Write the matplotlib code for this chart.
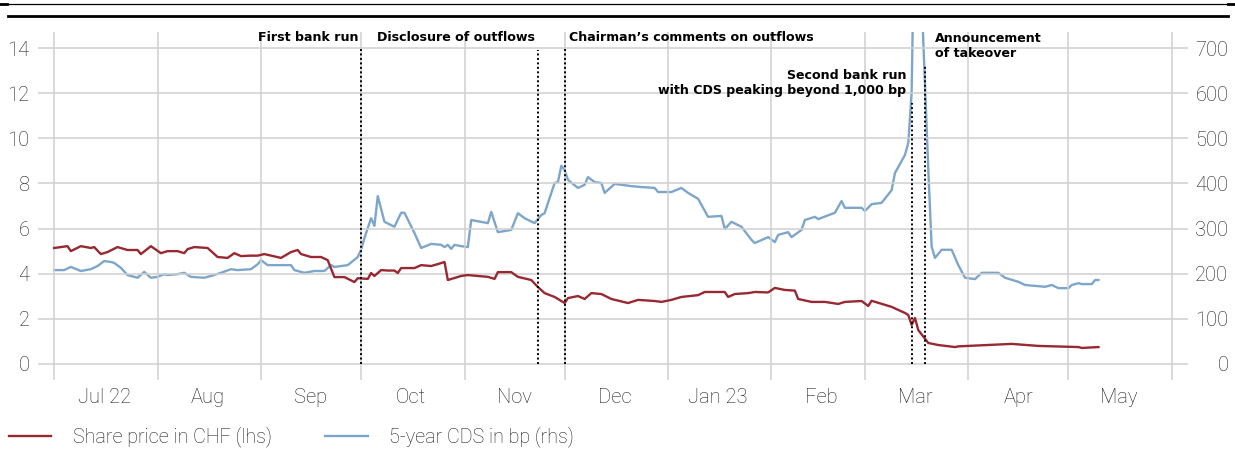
import numpy as np
import pandas as pd
import matplotlib
matplotlib.use("Agg")
import matplotlib.pyplot as plt
import matplotlib.dates as mdates
from matplotlib.lines import Line2D

# ── Data ─────────────────────────────────────────────────────────────────
share_dates = ["2022-07-01", "2022-07-05", "2022-07-06", "2022-07-09", "2022-07-12", "2022-07-13",
               "2022-07-15", "2022-07-17", "2022-07-20", "2022-07-23", "2022-07-26", "2022-07-27",
               "2022-07-30", "2022-08-02", "2022-08-04", "2022-08-07", "2022-08-09", "2022-08-10",
               "2022-08-12", "2022-08-16", "2022-08-19", "2022-08-22", "2022-08-24", "2022-08-26",
               "2022-08-29", "2022-08-31", "2022-09-02", "2022-09-07", "2022-09-10", "2022-09-12",
               "2022-09-13", "2022-09-16", "2022-09-19", "2022-09-21", "2022-09-23", "2022-09-26",
               "2022-09-29", "2022-09-30", "2022-10-03", "2022-10-04", "2022-10-05", "2022-10-07",
               "2022-10-09", "2022-10-11", "2022-10-12", "2022-10-13", "2022-10-17", "2022-10-19",
               "2022-10-22", "2022-10-25", "2022-10-26", "2022-10-27", "2022-10-31", "2022-11-02",
               "2022-11-05", "2022-11-08", "2022-11-10", "2022-11-11", "2022-11-15", "2022-11-17",
               "2022-11-21", "2022-11-23", "2022-11-25", "2022-11-28", "2022-12-01", "2022-12-02",
               "2022-12-05", "2022-12-07", "2022-12-09", "2022-12-12", "2022-12-15", "2022-12-20",
               "2022-12-23", "2022-12-28", "2022-12-30", "2023-01-02", "2023-01-05", "2023-01-10",
               "2023-01-12", "2023-01-18", "2023-01-19", "2023-01-21", "2023-01-25", "2023-01-27",
               "2023-01-31", "2023-02-02", "2023-02-05", "2023-02-08", "2023-02-09", "2023-02-13",
               "2023-02-17", "2023-02-21", "2023-02-23", "2023-02-28", "2023-03-02", "2023-03-03",
               "2023-03-09", "2023-03-13", "2023-03-14", "2023-03-15", "2023-03-16", "2023-03-17",
               "2023-03-20", "2023-03-23", "2023-03-28", "2023-03-29", "2023-04-14", "2023-04-22",
               "2023-05-04", "2023-05-05", "2023-05-10"]
share_chf = [5.14, 5.22, 5.00, 5.22, 5.14, 5.18,
             4.87, 4.96, 5.18, 5.05, 5.05, 4.87,
             5.22, 4.91, 5.00, 5.00, 4.91, 5.09,
             5.18, 5.14, 4.74, 4.70, 4.91, 4.78,
             4.80, 4.80, 4.87, 4.70, 4.96, 5.05,
             4.87, 4.74, 4.74, 4.60, 3.85, 3.85,
             3.63, 3.80, 3.77, 4.03, 3.90, 4.16,
             4.14, 4.14, 4.03, 4.25, 4.25, 4.38,
             4.34, 4.47, 4.52, 3.72, 3.90, 3.94,
             3.90, 3.86, 3.77, 4.07, 4.07, 3.86,
             3.72, 3.41, 3.14, 2.97, 2.70, 2.92,
             3.01, 2.88, 3.14, 3.10, 2.88, 2.70,
             2.84, 2.79, 2.75, 2.84, 2.97, 3.05,
             3.19, 3.19, 2.97, 3.10, 3.14, 3.19,
             3.17, 3.37, 3.28, 3.25, 2.88, 2.75,
             2.75, 2.66, 2.75, 2.79, 2.57, 2.80,
             2.53, 2.26, 2.17, 1.73, 2.04, 1.50,
             0.93, 0.84, 0.75, 0.78, 0.89, 0.80,
             0.75, 0.71, 0.75]

cds_dates = ["2022-07-01", "2022-07-04", "2022-07-06", "2022-07-09", "2022-07-12", "2022-07-14",
             "2022-07-16", "2022-07-18", "2022-07-19", "2022-07-21", "2022-07-23", "2022-07-26",
             "2022-07-28", "2022-07-30", "2022-08-01", "2022-08-03", "2022-08-04", "2022-08-07",
             "2022-08-09", "2022-08-11", "2022-08-15", "2022-08-17", "2022-08-20", "2022-08-23",
             "2022-08-25", "2022-08-29", "2022-08-31", "2022-09-01", "2022-09-03", "2022-09-10",
             "2022-09-11", "2022-09-14", "2022-09-17", "2022-09-20", "2022-09-22", "2022-09-23",
             "2022-09-27", "2022-09-30", "2022-10-01", "2022-10-02", "2022-10-04", "2022-10-05",
             "2022-10-06", "2022-10-08", "2022-10-11", "2022-10-13", "2022-10-14", "2022-10-17",
             "2022-10-19", "2022-10-22", "2022-10-25", "2022-10-26", "2022-10-27", "2022-10-28",
             "2022-10-29", "2022-10-31", "2022-11-02", "2022-11-03", "2022-11-08", "2022-11-09",
             "2022-11-11", "2022-11-15", "2022-11-17", "2022-11-19", "2022-11-22", "2022-11-24",
             "2022-11-25", "2022-11-28", "2022-11-29", "2022-11-30", "2022-12-01", "2022-12-02",
             "2022-12-05", "2022-12-07", "2022-12-08", "2022-12-10", "2022-12-12", "2022-12-13",
             "2022-12-16", "2022-12-21", "2022-12-24", "2022-12-28", "2022-12-29", "2023-01-02",
             "2023-01-05", "2023-01-07", "2023-01-10", "2023-01-13", "2023-01-17", "2023-01-18",
             "2023-01-20", "2023-01-23", "2023-01-26", "2023-01-27", "2023-01-31", "2023-02-02",
             "2023-02-03", "2023-02-06", "2023-02-07", "2023-02-10", "2023-02-11", "2023-02-14",
             "2023-02-15", "2023-02-20", "2023-02-22", "2023-02-23", "2023-02-28", "2023-03-01",
             "2023-03-03", "2023-03-06", "2023-03-09", "2023-03-10", "2023-03-13", "2023-03-14",
             "2023-03-15", "2023-03-16", "2023-03-17", "2023-03-20", "2023-03-21", "2023-03-22",
             "2023-03-24", "2023-03-27", "2023-03-29", "2023-03-31", "2023-04-03", "2023-04-05",
             "2023-04-10", "2023-04-12", "2023-04-16", "2023-04-18", "2023-04-24", "2023-04-26",
             "2023-04-28", "2023-05-01", "2023-05-02", "2023-05-04", "2023-05-05", "2023-05-08",
             "2023-05-09", "2023-05-10"]
cds_bp = [208, 208, 215, 206, 210, 217,
          228, 226, 224, 213, 197, 191,
          204, 191, 193, 199, 197, 199,
          202, 193, 191, 195, 202, 210,
          208, 210, 221, 230, 219, 219,
          208, 202, 206, 206, 219, 215,
          219, 237, 253, 279, 323, 306,
          372, 315, 304, 335, 335, 290,
          257, 266, 264, 259, 264, 255,
          264, 261, 259, 319, 312, 337,
          292, 297, 334, 323, 312, 330,
          334, 401, 403, 439, 430, 408,
          390, 397, 414, 403, 401, 379,
          399, 394, 392, 390, 381, 381,
          390, 379, 366, 326, 328, 299,
          315, 304, 275, 268, 281, 270,
          286, 292, 281, 297, 319, 326,
          321, 335, 361, 346, 346, 339,
          354, 357, 385, 423, 463, 490,
          600, 1050, 1000, 430, 260, 235,
          253, 253, 219, 191, 188, 202,
          202, 191, 182, 175, 171, 175,
          168, 168, 175, 179, 177, 177,
          186, 186]

event_dates = ["2022-10-01", "2022-11-23", "2022-12-01", "2023-03-15", "2023-03-19"]
event_tops = [14.0, 13.9, 14.0, 11.55, 13.25]
event_labels = ["First bank run", "Disclosure of outflows", "Chairman\u2019s comments on outflows",
                "Second bank run\nwith CDS peaking beyond 1,000 bp", "Announcement\nof takeover"]

month_labels = ["Jul 22", "Aug", "Sep", "Oct", "Nov", "Dec", "Jan 23", "Feb", "Mar", "Apr", "May"]

RED = "#982832"
BLUE = "#7EA6CB"
GRID = "#d0d0d0"
TXT = "#1e1e1e"
TICK_FONT = {"family": ["Roboto", "DejaVu Sans"], "weight": "light"}

# ── Figure ────────────────────────────────────────────────────────────────
fig = plt.figure(figsize=(12.35, 4.5), dpi=100)
ax = fig.add_axes([38 / 1235, 1 - 380 / 450, 1150 / 1235, 348 / 450])
ax2 = ax.twinx()

x_share = pd.to_datetime(share_dates)
x_cds = pd.to_datetime(cds_dates)

ax2.plot(x_cds, cds_bp, color=BLUE, lw=1.7, zorder=3)
ax.plot(x_share, share_chf, color=RED, lw=1.7, zorder=3)
ax.set_zorder(ax2.get_zorder() + 1)
ax.patch.set_visible(False)

ax.set_ylim(-0.71, 14.71)
ax2.set_ylim(-35.5, 735.5)
ax.set_xlim(pd.Timestamp("2022-06-26 04:00"), pd.Timestamp("2023-06-05 20:00"))

# month gridlines on month starts, labels centered mid-month
month_starts = pd.date_range("2022-07-01", "2023-06-01", freq="MS")
for d in month_starts:
    ax.axvline(d, color=GRID, lw=1.1, zorder=0)
for yv in range(0, 15, 2):
    ax.axhline(yv, color=GRID, lw=1.1, zorder=0)

mid = month_starts[:-1] + pd.Timedelta(days=15)
ax.set_xticks(mid)
ax.set_xticklabels(month_labels)
ax.set_yticks(range(0, 15, 2))
ax2.set_yticks(range(0, 701, 100))

ax.tick_params(axis="x", length=0, pad=6, colors=TXT, labelsize=14.5)
ax.tick_params(axis="y", length=0, pad=6, colors=TXT, labelsize=14.5)
ax2.tick_params(axis="y", length=0, pad=29, colors=TXT, labelsize=14.5)
for lab in ax.get_xticklabels() + ax.get_yticklabels() + ax2.get_yticklabels():
    lab.set_fontfamily(TICK_FONT["family"])
    lab.set_fontweight(TICK_FONT["weight"])
for lab in ax2.get_yticklabels():
    lab.set_horizontalalignment("right")

for a in (ax, ax2):
    for s in a.spines.values():
        s.set_visible(False)

# ── Events ───────────────────────────────────────────────────────────────
ev = pd.to_datetime(event_dates)
for d, top in zip(ev, event_tops):
    ax.vlines(d, 0, top, colors="black", linestyles=(0, (1, 1.3)), lw=1.4, zorder=5)

ann_kw = dict(textcoords="offset points", fontsize=9.1, fontweight="bold",
              family="DejaVu Sans", color="black", va="center", linespacing=1.2)
ax.annotate(event_labels[0], xy=(ev[0], 14.45), xytext=(-2, 0), ha="right", **ann_kw)
ax.annotate(event_labels[1], xy=(ev[1], 14.45), xytext=(-2, 0), ha="right", **ann_kw)
ax.annotate(event_labels[2], xy=(ev[2], 14.45), xytext=(3, 0), ha="left", **ann_kw)
ax.annotate(event_labels[3], xy=(ev[3], 12.43), xytext=(-4, 0), ha="right",
            multialignment="right", **ann_kw)
ax.annotate(event_labels[4], xy=(ev[4], 14.07), xytext=(7, 0), ha="left",
            multialignment="left", **ann_kw)

# ── Legend ───────────────────────────────────────────────────────────────
handles = [Line2D([], [], color=RED, lw=1.7), Line2D([], [], color=BLUE, lw=1.7)]
leg = fig.legend(handles, ["Share price in CHF (lhs)", "5-year CDS in bp (rhs)"],
                 loc="center left", bbox_to_anchor=(3 / 1235, 1 - 437 / 450), ncol=2,
                 frameon=False, handlelength=2.15, handletextpad=1.1, columnspacing=2.7,
                 borderaxespad=0, borderpad=0.3,
                 prop={"family": ["Roboto", "DejaVu Sans"], "weight": "light", "size": 14.2})
for t in leg.get_texts():
    t.set_color(TXT)

# ── Top rules ────────────────────────────────────────────────────────────
fig.add_artist(Line2D([0, 1], [1 - 4 / 450] * 2, color="black", lw=0.9))
fig.add_artist(Line2D([0, 7 / 1235], [1 - 4 / 450] * 2, color="black", lw=2))
fig.add_artist(Line2D([1228 / 1235, 1], [1 - 4 / 450] * 2, color="black", lw=2))
fig.add_artist(Line2D([8 / 1235, 1228 / 1235], [1 - 15.5 / 450] * 2, color="black", lw=2))

fig.savefig("out.png", dpi=100)
